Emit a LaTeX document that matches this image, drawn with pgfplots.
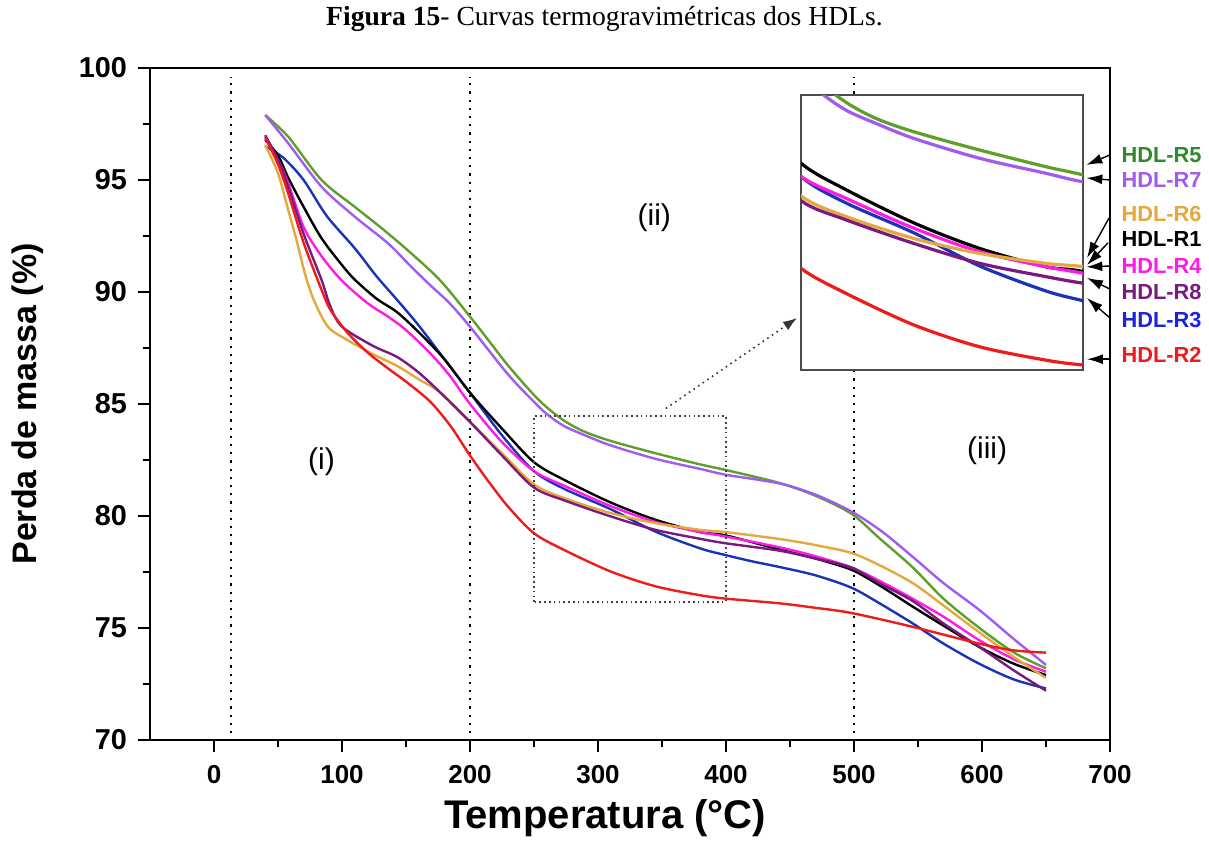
\documentclass[border=0pt]{standalone}
\usepackage{fontspec}
\setmainfont{Liberation Sans}
\newfontfamily\timesfont{Liberation Serif}
\usepackage{pgfplots}
\usetikzlibrary{arrows.meta}
\pgfplotsset{compat=1.18}

\definecolor{cRone}{HTML}{000000}
\definecolor{cRtwo}{HTML}{EE1B1B}
\definecolor{cRthree}{HTML}{1A33B8}
\definecolor{lRthree}{HTML}{1E22E0}
\definecolor{cRfour}{HTML}{FF1AE6}
\definecolor{cRfive}{HTML}{5E9F2C}
\definecolor{lRfive}{HTML}{2E8A2A}
\definecolor{cRsix}{HTML}{E4A83E}
\definecolor{cRseven}{HTML}{A05BF0}
\definecolor{cReight}{HTML}{7A1A7E}

% HDL-R1
\pgfplotstableread{
x y
40 96.8
50 96.1
58 95.1
70 93.8
84 92.4
100 91.2
110 90.55
127 89.7
143 89.1
160 88.2
180 87.0
200 85.5
225 83.9
250 82.4
274 81.6
310 80.6
345 79.83
380 79.28
400 79.13
442 78.5
470 78.1
498 77.6
520 76.9
546 75.95
570 75.1
598 74.15
625 73.4
650 72.9
}\rone
% HDL-R2
\pgfplotstableread{
x y
40 96.9
50 95.7
58 94.4
70 92.2
84 90.1
91 89.2
104 88.2
120 87.3
138 86.5
150 86.0
169 85.1
185 84.0
200 82.7
215 81.5
230 80.4
250 79.23
274 78.47
310 77.52
345 76.86
380 76.46
400 76.31
442 76.1
470 75.9
498 75.67
546 75.05
598 74.3
625 74.0
650 73.9
}\rtwo
% HDL-R3
\pgfplotstableread{
x y
40 96.5
54 96.0
70 95.0
88 93.4
110 91.95
127 90.7
143 89.65
160 88.5
180 87.0
200 85.5
225 83.6
250 82.0
274 81.2
310 80.3
345 79.3
380 78.55
400 78.25
420 77.98
442 77.72
470 77.35
498 76.8
520 76.1
546 75.2
570 74.3
598 73.4
625 72.7
650 72.3
}\rthree
% HDL-R4
\pgfplotstableread{
x y
40 96.9
50 95.9
58 94.85
70 92.9
84 91.6
100 90.5
120 89.5
136 88.9
150 88.3
170 87.2
185 86.2
200 85.0
225 83.3
250 82.0
274 81.34
310 80.44
345 79.73
380 79.28
400 79.08
442 78.6
470 78.2
498 77.7
520 77.1
546 76.3
570 75.5
598 74.45
625 73.6
650 73.05
}\rfour
% HDL-R5
\pgfplotstableread{
x y
40 97.9
58 96.93
84 95.0
110 93.8
132 92.8
154 91.73
177 90.5
200 88.9
215 87.8
230 86.7
250 85.4
262 84.75
275 84.2
290 83.75
310 83.35
345 82.8
380 82.3
400 82.05
442 81.47
470 80.9
498 80.1
520 79.0
546 77.7
570 76.3
598 75.0
625 73.9
650 73.2
}\rfive
% HDL-R6
\pgfplotstableread{
x y
40 96.56
50 95.3
58 93.66
65 92.2
71 90.83
78 89.64
89 88.45
104 87.86
125 87.2
143 86.7
160 86.1
177 85.5
200 84.2
225 82.8
250 81.41
274 80.79
310 80.13
345 79.68
380 79.38
400 79.28
442 78.97
470 78.7
498 78.35
520 77.8
546 77.0
570 76.0
598 74.8
625 73.7
650 72.77
}\rsix
% HDL-R7
\pgfplotstableread{
x y
40 97.9
58 96.64
84 94.7
110 93.36
136 92.17
154 91.13
169 90.3
184 89.5
200 88.45
230 86.3
250 85.1
260 84.55
274 84.0
290 83.6
310 83.15
345 82.55
380 82.1
400 81.84
442 81.45
470 80.95
498 80.2
522 79.3
546 78.17
570 77.0
598 75.8
625 74.5
650 73.35
}\rseven
% HDL-R8
\pgfplotstableread{
x y
40 97.0
50 95.9
58 94.7
70 92.6
84 90.54
91 89.34
100 88.45
124 87.6
143 87.1
160 86.4
177 85.5
200 84.2
225 82.7
250 81.27
274 80.69
310 79.98
345 79.38
380 78.98
400 78.78
442 78.45
470 78.1
498 77.7
520 77.0
546 76.2
570 75.2
598 74.15
625 73.1
650 72.2
}\reight

\begin{document}
\begin{tikzpicture}
\useasboundingbox (-75pt,-52pt) rectangle (529.5pt,370pt);
\begin{axis}[scale only axis,width=480pt,height=336pt,
 xmin=-50,xmax=700,ymin=70,ymax=100,
 xtick={0,100,...,700},ytick={70,75,...,100},
 minor x tick num=1,minor y tick num=1,
 tick pos=left,tick align=outside,
 major tick length=6pt,minor tick length=3.5pt,
 axis line style={line width=1pt},
 every tick/.style={black,line width=1pt},
 /pgf/number format/assume math mode=true,
 xticklabel style={font=\fontsize{13}{15}\selectfont\bfseries,yshift=-3pt},
 yticklabel style={font=\fontsize{14.4}{16}\selectfont\bfseries,xshift=-2pt},
 xlabel={Temperatura (°C)},
 xlabel style={at={(axis description cs:0.474,0)},anchor=center,yshift=-39pt,
  font=\fontsize{20}{24}\selectfont\bfseries},
 title={{\bfseries Figura 15}- Curvas termogravimétricas dos HDLs.},
 title style={at={(axis description cs:0.4734,1)},anchor=center,yshift=18.5pt,
  font=\timesfont\fontsize{13.8}{16}\selectfont},
 clip=false,
 every axis plot/.append style={line width=1.2pt,smooth,tension=0.5}]

\node[rotate=90,font=\fontsize{17}{20}\selectfont\bfseries]
 at (axis description cs:-0.127,0.5) {Perda de massa (\%)};

\draw[black,line width=1pt,dash pattern=on 1.1pt off 3pt] (axis cs:13,70.3) -- (axis cs:13,99.6);
\draw[black,line width=1pt,dash pattern=on 1.1pt off 3pt] (axis cs:200,70.3) -- (axis cs:200,99.6);
\draw[black,line width=1pt,dash pattern=on 1.1pt off 3pt] (axis cs:500,70.3) -- (axis cs:500,99.6);

\addplot[cRfive] table {\rfive};
\addplot[cRseven] table {\rseven};
\addplot[cRthree] table {\rthree};
\addplot[cRone] table {\rone};
\addplot[cRfour] table {\rfour};
\addplot[cRsix] table {\rsix};
\addplot[cReight] table {\reight};
\addplot[cRtwo] table {\rtwo};

\draw[black!75,line width=0.7pt,dash pattern=on 0.8pt off 1.6pt] (axis cs:250,76.16) rectangle (axis cs:400,84.46);
\draw[black!80,line width=0.8pt,dash pattern=on 0.8pt off 2pt,-{Latex[length=7pt,width=5pt]}] (axis cs:353,84.8) -- (axis cs:455.5,88.84);

\node[font=\fontsize{15}{17}\selectfont] at (axis cs:84,82.4) {(i)};
\node[font=\fontsize{15}{17}\selectfont] at (axis cs:344,93.3) {(ii)};
\node[font=\fontsize{15}{17}\selectfont] at (axis cs:604,82.9) {(iii)};

\begin{scope}[line width=0.7pt,-{Latex[length=8pt,width=5pt]}]
\draw (axis cs:700,96.12) -- (axis cs:681.5,95.67);
\draw (axis cs:700,95.0) -- (axis cs:681.5,95.09);
\draw (axis cs:699.2,93.3) -- (axis cs:682,91.52);
\draw (axis cs:698.4,92.19) -- (axis cs:682,91.2);
\draw (axis cs:700,91.16) -- (axis cs:681.5,91.12);
\draw (axis cs:700,90.13) -- (axis cs:682,90.63);
\draw (axis cs:700,88.84) -- (axis cs:682,89.73);
\draw (axis cs:700,87.0) -- (axis cs:682,87.0);
\end{scope}
\begin{scope}[every node/.style={anchor=west,font=\fontsize{10.9}{12}\selectfont\bfseries}]
\node[text=lRfive] at (axis cs:703.5,96.12) {HDL-R5};
\node[text=cRseven] at (axis cs:703.5,95.0) {HDL-R7};
\node[text=cRsix] at (axis cs:703.5,93.48) {HDL-R6};
\node[text=cRone] at (axis cs:703.5,92.37) {HDL-R1};
\node[text=cRfour] at (axis cs:703.5,91.16) {HDL-R4};
\node[text=cReight] at (axis cs:703.5,90.0) {HDL-R8};
\node[text=lRthree] at (axis cs:703.5,88.75) {HDL-R3};
\node[text=cRtwo] at (axis cs:703.5,87.19) {HDL-R2};
\end{scope}
\end{axis}

\begin{axis}[at={(325.5pt,185pt)},anchor=south west,scale only axis,
 width=141pt,height=137.5pt,
 xmin=250,xmax=400,ymin=76.16,ymax=84.46,
 xtick=\empty,ytick=\empty,
 axis background/.style={fill=white},
 axis line style={black!70,line width=0.6pt},
 every axis plot/.append style={line width=1.6pt,smooth,tension=0.5}]
\addplot[cRfive] table {\rfive};
\addplot[cRseven] table {\rseven};
\addplot[cRthree] table {\rthree};
\addplot[cRone] table {\rone};
\addplot[cRfour] table {\rfour};
\addplot[cRsix] table {\rsix};
\addplot[cReight] table {\reight};
\addplot[cRtwo] table {\rtwo};
\end{axis}
\end{tikzpicture}
\end{document}
